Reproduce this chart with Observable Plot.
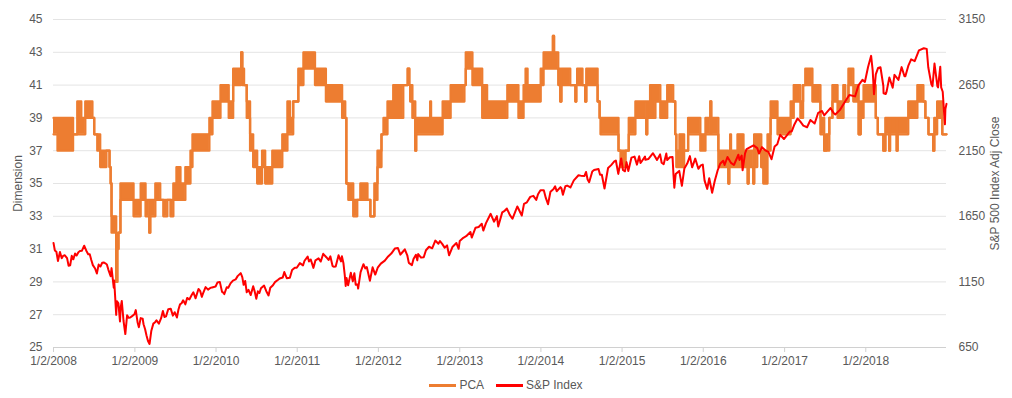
<!DOCTYPE html>
<html><head><meta charset="utf-8">
<script src="https://cdn.jsdelivr.net/npm/d3@7"></script>
<script src="https://cdn.jsdelivr.net/npm/@observablehq/plot@0.6"></script>
<style>
body{margin:0;background:#fff;font-family:"Liberation Sans",Arial,sans-serif;}
#legend{display:flex;justify-content:center;align-items:center;gap:12px;font-size:12px;color:#595959;height:26px;}
#legend span{display:inline-flex;align-items:center;}
.sw{display:inline-block;width:27px;height:3px;margin-right:3px;}
</style></head><body><div id="chart"></div><div id="legend"></div>
<script>
// PCA dimension: [period start, low, high] (value oscillates between low and high in the period)
const pca = [
["2008-01-02",38,39],["2008-01-20",37,39],["2008-03-30",38,38],["2008-04-18",38,40],["2008-05-06",38,39],
["2008-05-24",39,40],["2008-06-25",39,39],["2008-07-03",38,38],["2008-07-17",37,38],["2008-07-30",36,37],
["2008-08-27",37,37],["2008-09-10",36,36],["2008-09-15",35,35],["2008-09-19",32,33],["2008-10-10",29,29],
["2008-10-15",31,31],["2008-10-20",32,32],["2008-10-29",34,35],["2008-12-04",34,35],["2008-12-27",33,34],
["2009-01-28",34,35],["2009-02-19",33,34],["2009-03-08",32,32],["2009-03-12",33,34],["2009-04-04",34,35],
["2009-04-26",34,34],["2009-05-10",33,34],["2009-05-28",34,34],["2009-06-11",33,34],["2009-06-24",34,35],
["2009-07-08",34,36],["2009-07-26",34,35],["2009-08-17",35,36],["2009-09-09",36,37],["2009-09-18",37,38],
["2009-11-29",37,38],["2009-12-03",38,39],["2009-12-17",39,40],["2010-01-22",40,41],["2010-02-28",39,40],
["2010-03-20",41,42],["2010-04-25",43,43],["2010-04-30",41,42],["2010-05-08",41,41],["2010-05-20",39,40],
["2010-06-04",37,38],["2010-06-18",36,37],["2010-07-06",35,36],["2010-07-28",36,37],["2010-08-11",35,36],
["2010-09-12",36,37],["2010-10-27",37,38],["2010-11-19",38,40],["2010-12-01",38,39],["2010-12-15",40,40],
["2011-01-07",41,42],["2011-01-30",42,43],["2011-03-23",41,42],["2011-05-11",40,41],["2011-07-01",40,41],
["2011-07-23",39,40],["2011-08-06",39,39],["2011-08-11",35,35],["2011-08-20",34,35],["2011-09-11",33,34],
["2011-09-29",34,34],["2011-10-13",34,35],["2011-11-14",34,34],["2011-11-27",33,33],["2011-12-15",34,35],
["2011-12-29",36,37],["2012-01-16",38,38],["2012-01-25",38,39],["2012-02-12",39,40],["2012-03-09",39,41],
["2012-04-23",41,41],["2012-05-13",42,42],["2012-05-20",41,41],["2012-05-24",40,41],["2012-06-03",39,40],
["2012-06-16",37,37],["2012-06-20",38,39],["2012-08-22",38,40],["2012-08-26",38,39],["2012-10-17",39,40],
["2012-11-22",40,41],["2013-01-23",41,41],["2013-01-29",42,43],["2013-02-28",41,42],["2013-04-13",39,41],
["2013-05-05",39,40],["2013-08-04",40,41],["2013-09-23",39,40],["2013-10-16",40,41],["2013-10-25",40,42],
["2013-11-03",40,41],["2014-01-01",41,42],["2014-01-14",42,43],["2014-02-25",44,44],["2014-03-02",42,43],
["2014-03-21",41,42],["2014-03-30",40,40],["2014-04-04",41,42],["2014-05-14",41,41],["2014-06-06",40,40],
["2014-06-10",41,41],["2014-06-14",41,42],["2014-07-08",41,41],["2014-07-20",40,40],["2014-07-25",41,42],
["2014-09-14",40,40],["2014-09-23",39,39],["2014-09-27",38,39],["2014-12-17",37,37],["2014-12-26",36,37],
["2015-01-18",37,37],["2015-02-01",38,39],["2015-03-03",39,40],["2015-04-21",38,38],["2015-04-25",39,40],
["2015-05-08",39,41],["2015-06-01",40,41],["2015-06-23",39,40],["2015-07-24",40,41],["2015-08-20",40,40],
["2015-08-29",38,38],["2015-09-03",36,37],["2015-09-17",36,38],["2015-10-08",37,37],["2015-10-26",38,39],
["2015-12-20",37,38],["2016-01-12",38,39],["2016-02-03",40,40],["2016-02-07",38,39],["2016-03-10",36,37],
["2016-04-24",35,35],["2016-04-28",36,37],["2016-05-02",36,38],["2016-05-06",36,37],["2016-06-04",36,38],
["2016-07-01",36,37],["2016-07-20",35,35],["2016-07-24",36,37],["2016-08-14",35,35],["2016-08-18",36,38],
["2016-09-01",37,38],["2016-09-19",36,36],["2016-09-28",35,37],["2016-10-17",37,38],["2016-10-31",39,40],
["2016-12-01",38,39],["2017-01-29",39,40],["2017-02-12",40,41],["2017-03-14",39,40],["2017-03-26",41,41],
["2017-04-05",41,42],["2017-05-07",40,41],["2017-06-12",38,39],["2017-06-29",37,37],["2017-07-08",37,38],
["2017-07-22",39,39],["2017-08-05",40,41],["2017-08-28",39,40],["2017-09-24",41,41],["2017-10-01",40,40],
["2017-10-16",41,42],["2017-11-07",40,41],["2017-12-01",38,38],["2017-12-10",39,40],["2017-12-23",40,41],
["2018-02-16",39,39],["2018-02-25",38,38],["2018-03-22",37,37],["2018-03-31",38,39],["2018-04-17",37,37],
["2018-04-21",38,39],["2018-05-21",37,37],["2018-05-25",38,39],["2018-07-12",39,40],["2018-08-22",40,41],
["2018-09-18",40,40],["2018-09-27",39,39],["2018-10-11",38,38],["2018-11-01",37,37],["2018-11-06",38,39],
["2018-11-19",39,40],["2018-12-12",38,38],["2018-12-31",38,38]
];
// S&P 500 adjusted close: [date, value]
const spx = [
["2008-01-02",1447],["2008-01-08",1390],["2008-01-15",1380],["2008-01-22",1310],["2008-01-31",1378],["2008-02-08",1331],["2008-02-14",1348],["2008-02-22",1353],["2008-03-03",1331],["2008-03-10",1273],["2008-03-17",1277],["2008-03-24",1349],["2008-03-31",1322],["2008-04-08",1366],["2008-04-15",1351],["2008-04-23",1376],["2008-04-30",1385],["2008-05-09",1388],["2008-05-19",1426],["2008-05-28",1390],["2008-06-06",1361],["2008-06-13",1360],["2008-06-20",1317],["2008-06-27",1278],["2008-07-07",1252],["2008-07-15",1214],["2008-07-23",1282],["2008-07-31",1267],["2008-08-08",1296],["2008-08-15",1298],["2008-08-22",1292],["2008-08-29",1283],["2008-09-05",1242],["2008-09-15",1193],["2008-09-19",1255],["2008-09-29",1106],["2008-10-01",1161],["2008-10-10",899],["2008-10-13",1003],["2008-10-20",986],["2008-10-27",848],["2008-10-30",954],["2008-11-04",1005],["2008-11-12",852],["2008-11-20",752],["2008-11-28",896],["2008-12-05",876],["2008-12-12",879],["2008-12-19",887],["2008-12-31",903],
["2009-01-06",935],["2009-01-14",843],["2009-01-20",805],["2009-01-28",874],["2009-02-06",869],["2009-02-10",827],["2009-02-17",789],["2009-02-23",743],["2009-03-02",700],["2009-03-09",677],["2009-03-17",778],["2009-03-26",832],["2009-04-03",843],["2009-04-09",857],["2009-04-20",832],["2009-04-30",873],["2009-05-08",929],["2009-05-15",883],["2009-05-22",887],["2009-06-01",942],["2009-06-12",946],["2009-06-22",893],["2009-06-30",919],["2009-07-10",879],["2009-07-17",940],["2009-07-24",979],["2009-07-31",987],["2009-08-07",1010],["2009-08-17",979],["2009-08-25",1028],["2009-08-31",1021],["2009-09-04",1016],["2009-09-15",1052],["2009-09-22",1071],["2009-10-02",1025],["2009-10-15",1096],["2009-10-23",1079],["2009-10-30",1036],["2009-11-06",1069],["2009-11-16",1110],["2009-11-27",1091],["2009-12-07",1104],["2009-12-15",1108],["2009-12-31",1115],
["2010-01-08",1145],["2010-01-19",1150],["2010-01-29",1074],["2010-02-05",1066],["2010-02-08",1057],["2010-02-19",1109],["2010-02-26",1105],["2010-03-08",1139],["2010-03-19",1160],["2010-03-31",1169],["2010-04-09",1194],["2010-04-23",1217],["2010-04-30",1187],["2010-05-06",1128],["2010-05-13",1157],["2010-05-20",1071],["2010-05-28",1089],["2010-06-07",1050],["2010-06-18",1117],["2010-06-25",1076],["2010-07-02",1022],["2010-07-09",1078],["2010-07-16",1065],["2010-07-23",1102],["2010-08-06",1122],["2010-08-16",1079],["2010-08-26",1047],["2010-09-03",1105],["2010-09-15",1125],["2010-09-24",1148],["2010-10-08",1166],["2010-10-15",1176],["2010-10-29",1183],["2010-11-05",1225],["2010-11-16",1178],["2010-11-30",1181],["2010-12-10",1240],["2010-12-22",1258],["2010-12-31",1258],
["2011-01-14",1293],["2011-01-28",1276],["2011-02-04",1311],["2011-02-18",1343],["2011-02-24",1306],["2011-03-04",1321],["2011-03-16",1257],["2011-03-25",1314],["2011-04-08",1329],["2011-04-18",1305],["2011-04-29",1364],["2011-05-13",1338],["2011-05-23",1317],["2011-05-31",1345],["2011-06-10",1271],["2011-06-15",1266],["2011-06-24",1268],["2011-07-07",1353],["2011-07-18",1306],["2011-07-22",1345],["2011-07-29",1292],["2011-08-04",1200],["2011-08-08",1119],["2011-08-12",1179],["2011-08-19",1124],["2011-08-31",1219],["2011-09-09",1154],["2011-09-16",1216],["2011-09-22",1129],["2011-09-30",1131],["2011-10-03",1099],["2011-10-14",1224],["2011-10-27",1285],["2011-11-04",1253],["2011-11-11",1263],["2011-11-25",1159],["2011-12-07",1261],["2011-12-19",1206],["2011-12-30",1258],
["2012-01-13",1289],["2012-01-31",1312],["2012-02-15",1344],["2012-02-29",1366],["2012-03-16",1404],["2012-03-30",1408],["2012-04-10",1358],["2012-04-20",1378],["2012-04-30",1398],["2012-05-11",1353],["2012-05-18",1295],["2012-06-01",1278],["2012-06-08",1325],["2012-06-19",1357],["2012-06-25",1314],["2012-06-29",1362],["2012-07-12",1335],["2012-07-24",1338],["2012-08-03",1391],["2012-08-17",1418],["2012-08-31",1406],["2012-09-14",1465],["2012-09-28",1441],["2012-10-05",1461],["2012-10-15",1440],["2012-10-26",1411],["2012-11-06",1428],["2012-11-15",1353],["2012-11-30",1416],["2012-12-18",1446],["2012-12-28",1402],
["2013-01-02",1462],["2013-01-18",1486],["2013-01-31",1498],["2013-02-19",1530],["2013-02-25",1488],["2013-03-14",1563],["2013-03-28",1569],["2013-04-11",1593],["2013-04-18",1541],["2013-04-30",1598],["2013-05-21",1669],["2013-06-05",1609],["2013-06-18",1651],["2013-06-24",1573],["2013-07-12",1680],["2013-07-23",1692],["2013-08-02",1709],["2013-08-15",1661],["2013-08-27",1631],["2013-09-18",1725],["2013-10-08",1656],["2013-10-18",1745],["2013-10-31",1757],["2013-11-15",1798],["2013-11-29",1806],["2013-12-12",1775],["2013-12-20",1818],["2013-12-31",1848],
["2014-01-15",1848],["2014-01-24",1790],["2014-02-03",1742],["2014-02-14",1838],["2014-02-28",1859],["2014-03-07",1878],["2014-03-14",1841],["2014-03-31",1872],["2014-04-04",1865],["2014-04-11",1815],["2014-04-22",1879],["2014-04-30",1884],["2014-05-07",1878],["2014-05-15",1870],["2014-05-30",1924],["2014-06-20",1963],["2014-06-30",1960],["2014-07-17",1958],["2014-07-24",1988],["2014-07-31",1931],["2014-08-07",1910],["2014-08-21",1992],["2014-08-29",2003],["2014-09-18",2011],["2014-09-25",1966],["2014-10-03",1967],["2014-10-15",1862],["2014-10-31",2018],["2014-11-14",2040],["2014-11-28",2068],["2014-12-05",2075],["2014-12-16",1973],["2014-12-29",2091],
["2015-01-06",2003],["2015-01-15",1993],["2015-01-22",2063],["2015-01-30",1995],["2015-02-13",2097],["2015-02-27",2105],["2015-03-10",2044],["2015-03-20",2108],["2015-03-26",2056],["2015-03-31",2068],["2015-04-15",2106],["2015-04-17",2081],["2015-04-30",2086],["2015-05-21",2131],["2015-06-08",2080],["2015-06-22",2122],["2015-06-29",2058],["2015-07-08",2047],["2015-07-20",2128],["2015-07-24",2079],["2015-08-05",2100],["2015-08-17",2102],["2015-08-21",1971],["2015-08-25",1868],["2015-08-31",1972],["2015-09-16",1996],["2015-09-28",1882],["2015-10-09",2014],["2015-10-22",2052],["2015-11-03",2109],["2015-11-13",2023],["2015-11-27",2090],["2015-12-11",2012],["2015-12-22",2038],["2015-12-31",2044],
["2016-01-08",1922],["2016-01-20",1859],["2016-01-29",1940],["2016-02-11",1829],["2016-02-23",1921],["2016-03-07",2001],["2016-03-18",2050],["2016-04-01",2073],["2016-04-07",2041],["2016-04-20",2102],["2016-05-06",2057],["2016-05-19",2041],["2016-06-08",2119],["2016-06-13",2079],["2016-06-23",2113],["2016-06-27",2001],["2016-07-08",2130],["2016-07-15",2162],["2016-08-15",2191],["2016-09-01",2170],["2016-09-09",2128],["2016-09-22",2177],["2016-10-07",2153],["2016-10-21",2141],["2016-11-04",2085],["2016-11-18",2182],["2016-11-30",2199],["2016-12-13",2271],["2016-12-30",2239],
["2017-01-26",2297],["2017-02-03",2297],["2017-02-15",2350],["2017-03-01",2396],["2017-03-13",2373],["2017-03-27",2341],["2017-04-13",2329],["2017-04-28",2384],["2017-05-17",2357],["2017-06-02",2439],["2017-06-19",2453],["2017-06-29",2419],["2017-07-27",2475],["2017-08-10",2438],["2017-08-18",2426],["2017-09-08",2461],["2017-09-29",2519],["2017-10-20",2575],["2017-11-15",2564],["2017-11-30",2648],["2017-12-18",2690],["2017-12-29",2674],
["2018-01-12",2786],["2018-01-26",2873],["2018-02-02",2762],["2018-02-08",2581],["2018-02-16",2732],["2018-02-26",2780],["2018-03-09",2786],["2018-03-22",2643],["2018-03-23",2588],["2018-04-02",2582],["2018-04-06",2604],["2018-04-18",2708],["2018-05-03",2630],["2018-05-11",2728],["2018-05-29",2690],["2018-06-12",2787],["2018-06-25",2717],["2018-06-29",2718],["2018-07-13",2801],["2018-07-25",2846],["2018-08-10",2833],["2018-08-29",2914],["2018-09-20",2931],["2018-10-03",2926],["2018-10-10",2786],["2018-10-24",2656],["2018-10-29",2641],["2018-11-07",2814],["2018-11-20",2642],["2018-11-23",2633],["2018-12-03",2790],["2018-12-07",2633],["2018-12-14",2599],["2018-12-21",2417],["2018-12-24",2351],["2018-12-26",2468],["2018-12-31",2507]
];
const leftTicks = [25,27,29,31,33,35,37,39,41,43,45];
const rightTicks = [650,1150,1650,2150,2650,3150];
const xTicks = ["2008-01-02","2009-01-02","2010-01-02","2011-01-02","2012-01-02","2013-01-02","2014-01-02","2015-01-02","2016-01-02","2017-01-02","2018-01-02"];
const seriesNames = ["PCA","S&P Index"];
const seriesColors = ["#ED7D31","#FF0000"];

const parse = d3.utcParse("%Y-%m-%d");
const toLeft = v => 25 + (v - 650) / 125;
const pcaData = pca.map(([d, lo, hi]) => ({date: parse(d), lo, hi}));
const spData = spx.map(([d, v]) => ({date: parse(d), y: toLeft(v)}));
const fmt = d => `${d.getUTCMonth() + 1}/${d.getUTCDate()}/${d.getUTCFullYear()}`;

const chart = Plot.plot({
  width: 1012, height: 372,
  marginLeft: 53, marginRight: 66, marginTop: 19, marginBottom: 25,
  style: {fontFamily: '"Liberation Sans", Arial, sans-serif', fontSize: "12px", color: "#595959", background: "#fff"},
  x: {type: "utc", domain: [parse("2008-01-02"), parse("2018-12-31")]},
  y: {domain: [25, 45]},
  marks: [
    Plot.gridY(leftTicks, {stroke: "#e4e4e4", strokeOpacity: 1}),
    Plot.ruleY([25], {stroke: "#d0d0d0"}),
    Plot.axisX(xTicks.map(parse), {tickFormat: fmt, tickSize: 5, tickPadding: 4, stroke: "#d0d0d0", label: null}),
    Plot.axisY(leftTicks, {anchor: "left", tickSize: 0, tickPadding: 11, label: "Dimension", labelAnchor: "center", labelOffset: 40, labelArrow: "none"}),
    Plot.axisY(rightTicks.map(toLeft), {anchor: "right", tickSize: 0, tickPadding: 12, tickFormat: d => String(Math.round(650 + (d - 25) * 125)), label: "S&P 500 Index Adj Close", labelAnchor: "center", labelOffset: 52, labelArrow: "none"}),
    Plot.areaY(pcaData, {x: "date", y1: "lo", y2: "hi", curve: "step-after", fill: seriesColors[0]}),
    Plot.line(pcaData, {x: "date", y: "lo", curve: "step-after", stroke: seriesColors[0], strokeWidth: 2.3}),
    Plot.line(pcaData, {x: "date", y: "hi", curve: "step-after", stroke: seriesColors[0], strokeWidth: 2.3}),
    Plot.line(spData, {x: "date", y: "y", stroke: seriesColors[1], strokeWidth: 2})
  ]
});
document.getElementById("chart").appendChild(chart);
const legend = document.getElementById("legend");
seriesNames.forEach((n, i) => {
  const s = document.createElement("span");
  s.innerHTML = `<i class="sw" style="background:${seriesColors[i]}"></i>${n.replace("&","&amp;")}`;
  legend.appendChild(s);
});
</script></body></html>
